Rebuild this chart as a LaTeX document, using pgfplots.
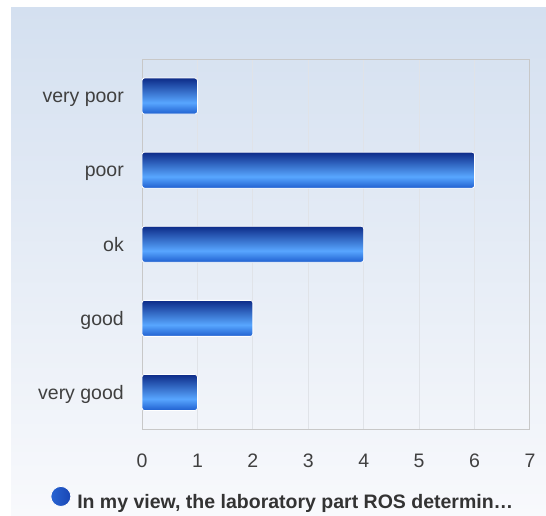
\documentclass[border=0pt]{standalone}
\usepackage{fontspec}
\setmainfont{Liberation Sans}
\usepackage{pgfplots}
\pgfplotsset{compat=1.18}
\definecolor{panelTop}{RGB}{212,224,240}
\definecolor{panelBot}{RGB}{248,249,252}
\definecolor{barTop}{RGB}{13,43,136}
\definecolor{barMid}{RGB}{88,166,255}
\definecolor{barBot}{RGB}{31,95,207}
\definecolor{gridc}{RGB}{224,227,232}
\definecolor{borderc}{RGB}{200,200,200}
\definecolor{txt}{RGB}{64,64,64}
\definecolor{legtxt}{RGB}{51,51,51}
\definecolor{legL}{RGB}{40,100,210}
\definecolor{legM}{RGB}{70,140,240}
\definecolor{legR}{RGB}{25,70,180}
\pgfdeclareverticalshading{barshade}{100bp}{color(0bp)=(barBot); color(25bp)=(barBot); color(41bp)=(barMid); color(75bp)=(barTop); color(100bp)=(barTop)}
\pgfplotsset{barstyle/.style={draw=white, line width=0.8pt, shade, shading=barshade, rounded corners=2.5pt}}
\begin{document}
\begin{tikzpicture}
\useasboundingbox (0,0) rectangle (546pt,515pt);
\fill[white] (0,0) rectangle (546pt,515pt);
\shade[top color=panelTop, bottom color=panelBot] (11pt,0) rectangle (546pt,507pt);
\begin{axis}[
  at={(142pt,85.5pt)}, anchor=south west,
  scale only axis, width=388pt, height=370.5pt,
  xmin=0, xmax=7, ymin=-0.5, ymax=4.5, y dir=reverse,
  xbar, bar width=36pt, bar shift=0pt,
  ytick={0,...,4},
  yticklabels={very poor,poor,ok,good,very good},
  xtick={0,...,7},
  xmajorgrids,
  major grid style={gridc, line width=1pt},
  axis line style={borderc, line width=1pt},
  major tick length=0pt,
  tick style={draw=none},
  /pgf/number format/assume math mode=true,
  ticklabel style={font=\fontsize{19.5}{22}\selectfont, text=txt},
  xticklabel style={anchor=base, yshift=-37.5pt},
  yticklabel style={anchor=base east, inner sep=0pt, xshift=-18pt, yshift=-6.8pt},
  legend style={at={(axis description cs:0.363,-0.188)}, anchor=center, draw=none, fill=none,
    font=\bfseries\fontsize{19.5}{22}\selectfont, text=legtxt},
  legend image code/.code={\shade[left color=legL, middle color=legM, right color=legR] (0pt,6pt) circle (10pt); \path (14pt,0pt);},
]
\addplot[barstyle] coordinates {(1,0)};
\addlegendentry{In my view, the laboratory part ROS determin…}
\addplot[barstyle, forget plot] coordinates {(6,1)};
\addplot[barstyle, forget plot] coordinates {(4,2)};
\addplot[barstyle, forget plot] coordinates {(2,3)};
\addplot[barstyle, forget plot] coordinates {(1,4)};
\end{axis}
\end{tikzpicture}
\end{document}
